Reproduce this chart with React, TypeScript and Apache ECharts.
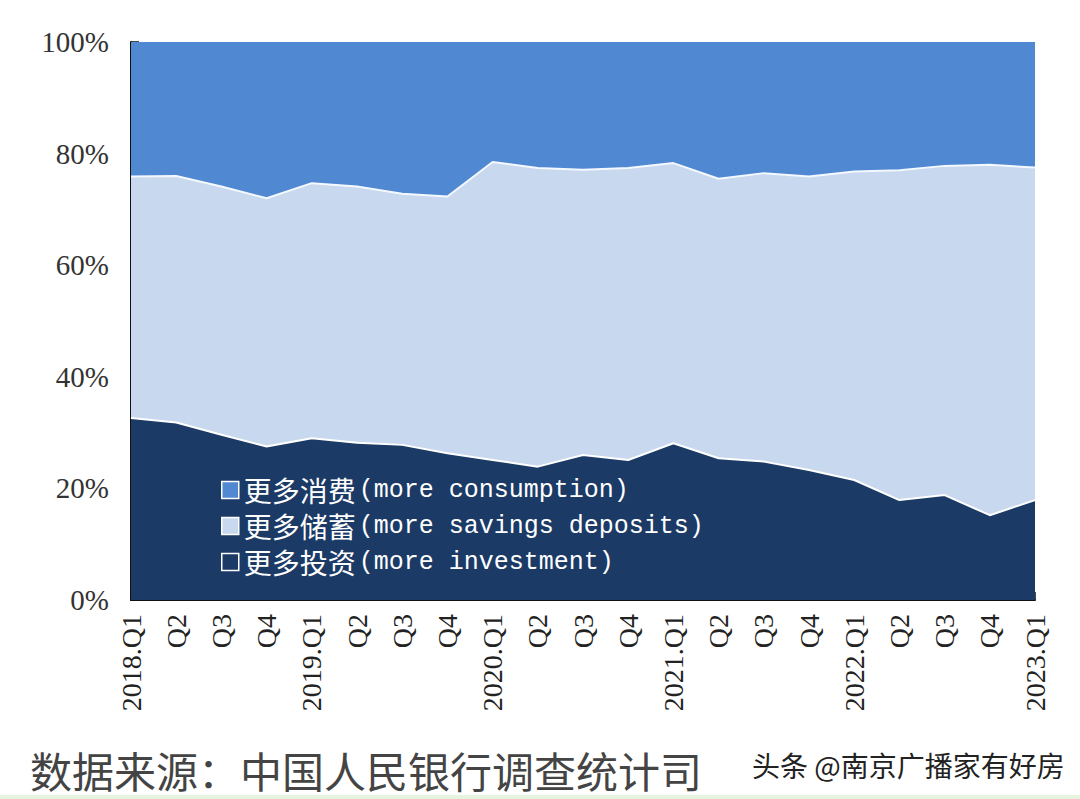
import React, { useEffect, useRef } from "react";
import * as echarts from "echarts";

const categories = [
  "2018.Q1", "Q2", "Q3", "Q4",
  "2019.Q1", "Q2", "Q3", "Q4",
  "2020.Q1", "Q2", "Q3", "Q4",
  "2021.Q1", "Q2", "Q3", "Q4",
  "2022.Q1", "Q2", "Q3", "Q4",
  "2023.Q1",
];

const investment = [32.6, 31.8, 29.6, 27.5, 29.0, 28.2, 27.8, 26.3, 25.1, 23.9, 26.0, 25.1, 28.1, 25.4, 24.8, 23.3, 21.5, 17.9, 18.8, 15.2, 17.9];
const savings = [43.3, 44.2, 44.5, 44.5, 45.7, 45.9, 45.0, 46.0, 53.4, 53.5, 51.1, 52.3, 50.2, 50.1, 51.7, 52.6, 55.3, 59.1, 59.0, 62.8, 59.6];
const consumption = [24.1, 24.0, 25.9, 28.0, 25.3, 25.9, 27.2, 27.7, 21.5, 22.6, 22.9, 22.6, 21.7, 24.5, 23.5, 24.1, 23.2, 23.0, 22.2, 22.0, 22.5];

const seriesNames = {
  consumption: "更多消费(more consumption)",
  savings: "更多储蓄(more savings deposits)",
  investment: "更多投资(more investment)",
};

const yTicks = [0, 20, 40, 60, 80, 100];

const COLORS = {
  consumption: "#5088D2",
  savings: "#C8D8EE",
  investment: "#1B3A66",
};

export default function App() {
  const ref = useRef<HTMLDivElement>(null);

  useEffect(() => {
    if (!ref.current) return;
    const chart = echarts.init(ref.current, undefined, { renderer: "svg" });
    chart.setOption({
      animation: false,
      backgroundColor: "#ffffff",
      grid: { left: 131, right: 45, top: 42, bottom: 199, containLabel: false },
      legend: {
        z: 20,
        orient: "vertical",
        left: 216,
        top: 471,
        icon: "rect",
        itemWidth: 17,
        itemHeight: 17,
        itemGap: 8,
        data: [seriesNames.consumption, seriesNames.savings, seriesNames.investment],
        itemStyle: { borderColor: "#ffffff", borderWidth: 1.5 },
        formatter: (name: string) => {
          const i = name.indexOf("(");
          return `{c|${name.slice(0, i)}}{e|${name.slice(i)}}`;
        },
        textStyle: {
          color: "#ffffff",
          rich: {
            c: { fontFamily: "Noto Sans CJK SC", fontSize: 28, color: "#ffffff", lineHeight: 28, padding: [0, 3, 0, 0] },
            e: { fontFamily: "Liberation Mono", fontSize: 25, color: "#ffffff", lineHeight: 28 },
          },
        },
      },
      xAxis: {
        type: "category",
        data: categories,
        boundaryGap: false,
        axisLine: { show: true, lineStyle: { color: "#111111", width: 2 } },
        axisTick: { show: true, inside: true, length: 8, lineStyle: { color: "#111111", width: 1.5 } },
        axisLabel: {
          interval: 0,
          rotate: 90,
          margin: 14,
          fontFamily: "Liberation Serif",
          fontSize: 28,
          color: "#222222",
        },
        splitLine: { show: false },
      },
      yAxis: {
        type: "value",
        min: yTicks[0],
        max: yTicks[yTicks.length - 1],
        interval: 20,
        axisLine: { show: true, lineStyle: { color: "#111111", width: 2 } },
        axisTick: { show: true, inside: true, length: 8, lineStyle: { color: "#111111", width: 1.5 } },
        axisLabel: {
          formatter: "{value}%",
          margin: 22,
          fontFamily: "Liberation Serif",
          fontSize: 29,
          color: "#333333",
        },
        splitLine: { show: false },
      },
      series: [
        {
          name: seriesNames.investment,
          type: "line",
          stack: "total",
          data: investment,
          showSymbol: false,
          z: 4,
          color: COLORS.investment,
          lineStyle: { color: "#ffffff", width: 2 },
          areaStyle: { color: COLORS.investment, opacity: 1 },
        },
        {
          name: seriesNames.savings,
          type: "line",
          stack: "total",
          data: savings,
          showSymbol: false,
          z: 3,
          color: COLORS.savings,
          lineStyle: { color: "#f4f8ff", width: 2 },
          areaStyle: { color: COLORS.savings, opacity: 1 },
        },
        {
          name: seriesNames.consumption,
          type: "line",
          stack: "total",
          data: consumption,
          showSymbol: false,
          z: 2,
          color: COLORS.consumption,
          lineStyle: { width: 0 },
          areaStyle: { color: COLORS.consumption, opacity: 1 },
        },
      ],
      graphic: [
        {
          type: "text",
          left: 30,
          top: 748,
          style: {
            text: "数据来源：中国人民银行调查统计司",
            fontFamily: "Noto Sans CJK SC",
            fontSize: 42,
            fill: "#444444",
          },
        },
        {
          type: "text",
          left: 752,
          top: 751,
          style: {
            text: "头条 @南京广播家有好房",
            fontFamily: "Noto Sans CJK SC",
            fontSize: 28,
            fill: "#222222",
          },
        },
        {
          type: "rect",
          shape: { x: 0, y: 795, width: 1080, height: 4 },
          style: { fill: "#e6f4df" },
        },
      ],
    });
    return () => chart.dispose();
  }, []);

  return (
    <div
      ref={ref}
      style={{ position: "absolute", left: 0, top: 0, width: 1080, height: 799 }}
    />
  );
}
